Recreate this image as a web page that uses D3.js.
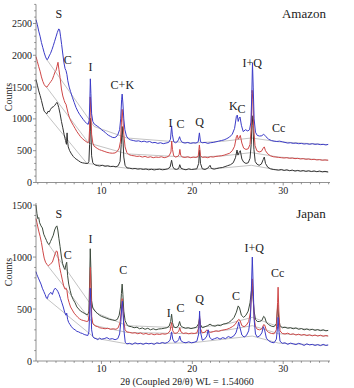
<!DOCTYPE html>
<html><head><meta charset="utf-8">
<script src="https://cdn.jsdelivr.net/npm/d3@7"></script>
<style>
html,body{margin:0;padding:0;background:#fff;}
svg{display:block;}
svg text{font-family:'Liberation Serif','Times New Roman','DejaVu Serif',serif;fill:#222;}
</style></head>
<body>
<svg id="chart" width="354" height="388" font-family="Liberation Serif, Times New Roman, DejaVu Serif, serif"></svg>
<script>
// ---------- DATA ----------
const xTicks = [10, 20, 30];
const amazonYTicks = [0, 500, 1000, 1500, 2000, 2500];
const japanYTicks = [0, 500, 1000, 1500];
const panelNames = ["Amazon", "Japan"];
const xTitle = "2θ (Coupled 2θ/θ) WL = 1.54060";
const yTitle = "Counts";

const amazonBlue = [[2.80,2560],[2.95,2480],[3.10,2380],[3.25,2300],[3.40,2200],[3.55,2120],[3.70,2040],[3.85,1975],[4.00,1930],[4.12,1945],[4.25,1990],[4.40,2030],[4.56,2090],[4.70,2150],[4.85,2220],[5.00,2290],[5.15,2360],[5.30,2415],[5.40,2400],[5.50,2300],[5.62,2170],[5.75,2020],[5.88,1880],[6.00,1790],[6.10,1760],[6.20,1700],[6.30,1600],[6.45,1500],[6.60,1430],[6.80,1340],[7.00,1260],[7.20,1180],[7.40,1120],[7.60,1070],[7.80,1030],[8.00,990],[8.20,955],[8.40,925],[8.55,915],[8.65,980],[8.72,1250],[8.78,1630],[8.84,1400],[8.92,1080],[9.05,960],[9.20,920],[9.40,900],[9.60,880],[9.80,860],[10.00,830],[10.20,810],[10.40,790],[10.60,760],[10.80,740],[11.00,725],[11.20,710],[11.40,705],[11.60,715],[11.80,750],[12.00,830],[12.12,1000],[12.22,1300],[12.28,1390],[12.36,1250],[12.46,1000],[12.58,830],[12.75,730],[12.95,690],[13.20,670],[13.50,660],[13.80,650],[14.10,655],[14.40,640],[14.70,650],[15.00,635],[15.30,645],[15.60,625],[15.90,630],[16.20,615],[16.50,625],[16.80,610],[17.10,620],[17.40,630],[17.60,680],[17.72,890],[17.80,760],[17.95,640],[18.15,625],[18.35,640],[18.50,680],[18.60,720],[18.70,670],[18.90,630],[19.20,620],[19.50,630],[19.80,615],[20.10,625],[20.40,620],[20.65,640],[20.78,780],[20.90,640],[21.10,625],[21.40,630],[21.70,615],[22.00,625],[22.30,630],[22.60,640],[22.90,650],[23.20,660],[23.50,670],[23.80,690],[24.10,715],[24.40,760],[24.65,850],[24.85,1040],[24.95,1060],[25.05,960],[25.15,1010],[25.25,1030],[25.40,900],[25.60,800],[25.85,830],[26.10,810],[26.30,830],[26.45,950],[26.55,1400],[26.62,1880],[26.70,1500],[26.80,1000],[26.95,790],[27.15,740],[27.40,730],[27.65,735],[27.85,760],[27.95,745],[28.10,720],[28.40,680],[28.70,660],[29.00,650],[29.30,645],[29.60,650],[29.90,640],[30.20,630],[30.50,620],[30.80,625],[31.10,615],[31.40,620],[31.70,610],[32.00,615],[32.30,605],[32.60,610],[32.90,600],[33.20,610],[33.50,600],[33.80,605],[34.10,595],[34.40,600],[34.70,590],[34.95,600]];

const amazonRed = [[2.80,1980],[2.95,1900],[3.10,1820],[3.25,1750],[3.40,1660],[3.55,1590],[3.70,1540],[3.85,1510],[4.00,1500],[4.15,1530],[4.30,1560],[4.45,1590],[4.60,1620],[4.75,1680],[4.90,1740],[5.00,1760],[5.10,1820],[5.22,1890],[5.32,1780],[5.45,1650],[5.60,1470],[5.75,1360],[5.90,1290],[6.00,1250],[6.10,1230],[6.20,1170],[6.35,1080],[6.50,1010],[6.70,950],[6.90,900],[7.10,850],[7.30,800],[7.50,760],[7.70,720],[7.90,690],[8.10,665],[8.30,645],[8.50,625],[8.62,640],[8.70,850],[8.77,1345],[8.84,1100],[8.92,760],[9.05,620],[9.20,570],[9.40,550],[9.60,530],[9.80,515],[10.00,505],[10.30,490],[10.60,475],[10.90,465],[11.20,460],[11.50,465],[11.75,490],[11.95,540],[12.10,650],[12.20,950],[12.28,1150],[12.36,1000],[12.46,760],[12.60,560],[12.80,470],[13.00,440],[13.30,425],[13.60,420],[13.90,410],[14.20,415],[14.50,400],[14.80,410],[15.10,395],[15.40,405],[15.70,390],[16.00,400],[16.30,395],[16.60,405],[16.90,390],[17.20,400],[17.45,420],[17.65,480],[17.73,650],[17.82,520],[17.95,420],[18.15,400],[18.40,410],[18.55,440],[18.63,520],[18.72,430],[18.90,400],[19.20,395],[19.50,405],[19.80,390],[20.10,400],[20.40,395],[20.65,410],[20.78,590],[20.90,420],[21.10,395],[21.40,400],[21.70,390],[22.00,405],[22.30,400],[22.60,410],[22.90,415],[23.20,420],[23.50,430],[23.80,445],[24.10,460],[24.40,500],[24.65,570],[24.85,720],[24.95,745],[25.05,680],[25.15,700],[25.28,740],[25.45,620],[25.65,540],[25.90,520],[26.15,530],[26.35,600],[26.48,850],[26.58,1450],[26.66,1300],[26.76,850],[26.90,580],[27.10,500],[27.35,480],[27.60,490],[27.80,540],[27.92,560],[28.05,500],[28.30,450],[28.60,420],[28.90,405],[29.20,400],[29.50,395],[29.80,390],[30.10,385],[30.40,390],[30.70,380],[31.00,385],[31.30,375],[31.60,380],[31.90,370],[32.20,375],[32.50,365],[32.80,370],[33.10,360],[33.40,365],[33.70,355],[34.00,360],[34.30,350],[34.60,355],[34.95,350]];

const amazonBlack = [[2.80,1620],[2.95,1530],[3.10,1440],[3.25,1370],[3.40,1290],[3.55,1200],[3.70,1120],[3.85,1100],[4.00,1080],[4.12,1120],[4.25,1110],[4.40,1150],[4.55,1180],[4.70,1190],[4.85,1210],[5.00,1240],[5.10,1260],[5.20,1230],[5.30,1180],[5.45,1080],[5.60,960],[5.75,860],[5.90,750],[6.05,660],[6.15,600],[6.22,780],[6.28,640],[6.35,560],[6.50,500],[6.70,450],[6.90,410],[7.10,380],[7.30,360],[7.50,340],[7.70,320],[7.90,310],[8.10,305],[8.30,300],[8.50,300],[8.62,330],[8.70,600],[8.77,1010],[8.84,800],[8.92,420],[9.05,310],[9.20,285],[9.40,270],[9.60,265],[9.80,260],[10.10,270],[10.40,255],[10.70,262],[11.00,250],[11.30,255],[11.60,245],[11.85,265],[12.05,330],[12.18,600],[12.28,880],[12.36,700],[12.46,400],[12.60,270],[12.80,230],[13.10,225],[13.40,215],[13.70,220],[14.00,210],[14.30,215],[14.60,205],[14.90,212],[15.20,200],[15.50,208],[15.80,198],[16.10,205],[16.40,210],[16.70,200],[17.00,205],[17.30,215],[17.55,240],[17.72,350],[17.85,250],[18.00,215],[18.25,205],[18.50,220],[18.62,280],[18.75,225],[19.00,210],[19.30,200],[19.60,215],[19.90,205],[20.20,210],[20.50,215],[20.70,300],[20.80,510],[20.90,300],[21.10,215],[21.40,205],[21.70,225],[21.95,270],[22.10,220],[22.40,210],[22.70,220],[23.00,230],[23.30,235],[23.60,250],[23.90,265],[24.20,280],[24.50,310],[24.75,390],[24.92,510],[25.02,430],[25.15,470],[25.28,500],[25.45,370],[25.65,320],[25.90,300],[26.15,310],[26.35,380],[26.48,600],[26.58,1050],[26.67,900],[26.78,520],[26.92,330],[27.10,290],[27.35,270],[27.60,290],[27.80,360],[27.92,400],[28.05,300],[28.30,240],[28.60,215],[28.90,205],[29.20,200],[29.50,195],[29.80,205],[30.10,190],[30.40,200],[30.70,185],[31.00,195],[31.30,180],[31.60,190],[31.90,178],[32.20,188],[32.50,175],[32.80,185],[33.10,172],[33.40,182],[33.70,170],[34.00,180],[34.30,168],[34.60,175],[34.95,165]];

const japanBlack = [[2.80,1500],[2.90,1420],[3.00,1370],[3.10,1380],[3.20,1330],[3.35,1300],[3.50,1280],[3.65,1220],[3.80,1190],[3.95,1160],[4.10,1130],[4.25,1120],[4.40,1150],[4.55,1180],[4.70,1210],[4.85,1260],[5.00,1290],[5.10,1300],[5.20,1260],[5.32,1180],[5.45,1100],[5.60,1000],[5.72,940],[5.85,900],[5.98,880],[6.10,930],[6.18,950],[6.28,820],[6.40,740],[6.55,680],[6.70,630],[6.90,590],[7.10,560],[7.30,520],[7.50,500],[7.70,480],[7.90,470],[8.10,460],[8.30,450],[8.50,445],[8.62,480],[8.70,760],[8.77,1080],[8.84,880],[8.92,580],[9.05,510],[9.20,490],[9.40,470],[9.60,455],[9.80,440],[10.00,430],[10.30,420],[10.60,410],[10.90,400],[11.20,395],[11.50,390],[11.75,400],[11.95,440],[12.10,520],[12.20,650],[12.28,740],[12.36,640],[12.46,480],[12.60,390],[12.80,350],[13.00,335],[13.30,330],[13.60,320],[13.90,325],[14.20,310],[14.50,318],[14.80,305],[15.10,315],[15.40,300],[15.70,310],[16.00,300],[16.30,308],[16.60,310],[16.90,315],[17.20,320],[17.45,335],[17.62,380],[17.72,450],[17.82,370],[17.95,330],[18.20,320],[18.45,335],[18.60,380],[18.72,340],[18.95,325],[19.25,315],[19.55,320],[19.85,312],[20.15,318],[20.45,325],[20.70,360],[20.80,410],[20.90,350],[21.10,320],[21.40,330],[21.70,340],[21.95,355],[22.20,340],[22.50,335],[22.80,345],[23.10,340],[23.40,355],[23.70,360],[24.00,370],[24.30,390],[24.60,420],[24.85,470],[25.05,530],[25.20,510],[25.40,440],[25.65,420],[25.90,440],[26.15,480],[26.35,560],[26.48,660],[26.58,720],[26.68,620],[26.80,480],[26.95,400],[27.15,380],[27.40,380],[27.65,390],[27.85,430],[27.97,420],[28.15,370],[28.40,350],[28.70,335],[29.00,330],[29.25,360],[29.40,540],[29.50,420],[29.65,340],[29.90,320],[30.20,325],[30.50,315],[30.80,320],[31.10,310],[31.40,318],[31.70,305],[32.00,312],[32.30,300],[32.60,308],[32.90,298],[33.20,305],[33.50,295],[33.80,302],[34.10,292],[34.40,300],[34.70,290],[34.95,295]];

const japanRed = [[2.80,1370],[2.90,1330],[3.00,1290],[3.10,1250],[3.25,1200],[3.40,1140],[3.55,1060],[3.70,990],[3.85,950],[4.00,930],[4.15,915],[4.30,925],[4.45,940],[4.60,950],[4.75,990],[4.90,1030],[5.05,1060],[5.15,1050],[5.25,990],[5.40,900],[5.55,840],[5.70,780],[5.85,720],[6.00,690],[6.12,700],[6.20,680],[6.32,600],[6.45,560],[6.60,520],[6.80,490],[7.00,460],[7.20,440],[7.40,420],[7.60,405],[7.80,395],[8.00,390],[8.20,385],[8.40,380],[8.55,385],[8.65,450],[8.72,700],[8.78,900],[8.85,700],[8.93,430],[9.05,360],[9.20,345],[9.40,335],[9.60,330],[9.80,320],[10.10,315],[10.40,310],[10.70,315],[11.00,305],[11.30,310],[11.60,305],[11.85,320],[12.05,370],[12.18,480],[12.28,600],[12.36,520],[12.46,380],[12.60,300],[12.80,280],[13.10,275],[13.40,268],[13.70,272],[14.00,262],[14.30,270],[14.60,258],[14.90,265],[15.20,255],[15.50,262],[15.80,252],[16.10,260],[16.40,255],[16.70,262],[17.00,258],[17.30,265],[17.55,290],[17.72,370],[17.85,290],[18.05,265],[18.30,270],[18.50,285],[18.62,320],[18.75,280],[19.00,265],[19.30,270],[19.60,262],[19.90,268],[20.20,265],[20.50,270],[20.70,320],[20.80,430],[20.90,310],[21.10,270],[21.40,278],[21.60,300],[21.75,285],[22.00,275],[22.30,282],[22.60,290],[22.90,285],[23.20,295],[23.50,300],[23.80,305],[24.10,315],[24.40,330],[24.70,350],[24.95,385],[25.10,400],[25.25,390],[25.45,340],[25.70,330],[25.95,345],[26.20,380],[26.40,470],[26.52,650],[26.60,790],[26.68,640],[26.80,420],[26.95,330],[27.15,305],[27.40,300],[27.65,310],[27.85,350],[27.97,345],[28.15,295],[28.40,275],[28.70,265],[29.00,262],[29.25,300],[29.38,560],[29.44,710],[29.52,480],[29.65,290],[29.90,265],[30.20,260],[30.50,268],[30.80,255],[31.10,262],[31.40,250],[31.70,258],[32.00,248],[32.30,255],[32.60,245],[32.90,252],[33.20,242],[33.50,250],[33.80,240],[34.10,248],[34.40,238],[34.70,245],[34.95,240]];

const japanBlue = [[2.80,860],[2.90,830],[3.00,810],[3.10,790],[3.20,770],[3.35,740],[3.50,700],[3.65,670],[3.80,640],[3.95,605],[4.05,600],[4.15,630],[4.30,650],[4.45,660],[4.60,640],[4.75,680],[4.90,700],[5.05,690],[5.20,670],[5.35,640],[5.50,600],[5.65,560],[5.80,520],[5.95,470],[6.10,440],[6.18,460],[6.28,400],[6.40,370],[6.55,350],[6.70,330],[6.90,310],[7.10,300],[7.30,285],[7.50,280],[7.70,270],[7.90,265],[8.10,255],[8.30,250],[8.50,245],[8.62,280],[8.70,450],[8.77,700],[8.84,520],[8.92,300],[9.05,235],[9.20,220],[9.40,215],[9.60,205],[9.80,220],[10.00,210],[10.30,215],[10.60,225],[10.90,210],[11.20,215],[11.50,205],[11.80,215],[12.00,260],[12.14,380],[12.24,520],[12.30,575],[12.38,460],[12.48,290],[12.62,180],[12.80,165],[13.10,170],[13.40,160],[13.70,175],[14.00,165],[14.30,170],[14.60,160],[14.90,172],[15.20,165],[15.50,170],[15.80,160],[16.10,175],[16.40,168],[16.70,178],[17.00,170],[17.30,180],[17.55,200],[17.72,280],[17.85,210],[18.05,180],[18.30,185],[18.50,205],[18.62,240],[18.75,195],[19.00,180],[19.30,175],[19.60,185],[19.90,175],[20.20,180],[20.50,190],[20.70,260],[20.80,480],[20.90,280],[21.10,200],[21.35,210],[21.60,240],[21.75,300],[21.90,230],[22.15,205],[22.45,215],[22.75,225],[23.05,210],[23.35,225],[23.65,215],[23.95,235],[24.25,225],[24.55,240],[24.80,270],[25.00,330],[25.10,375],[25.22,330],[25.45,250],[25.70,230],[25.95,245],[26.20,290],[26.40,420],[26.52,750],[26.60,1000],[26.68,780],[26.80,400],[26.95,260],[27.15,230],[27.40,240],[27.65,270],[27.82,330],[27.95,300],[28.15,220],[28.40,195],[28.70,180],[29.00,175],[29.25,210],[29.38,330],[29.44,420],[29.52,300],[29.65,190],[29.90,170],[30.20,175],[30.50,160],[30.80,172],[31.10,165],[31.40,158],[31.70,170],[32.00,162],[32.30,150],[32.60,165],[32.90,155],[33.20,160],[33.50,150],[33.80,158],[34.10,148],[34.40,160],[34.70,150],[34.95,155]];

// fitted backgrounds (thin grey)
const amazonBgBlue = [[4.0,1930],[9.2,880],[12.8,700],[20,620],[23.5,650],[26.5,700],[29.5,640],[34.95,595]];
const amazonBgRed = [[3.9,1510],[8.6,620],[12.8,450],[20,395],[23.5,420],[26.5,470],[29.5,400],[34.95,350]];
const amazonBgBlack = [[3.8,1100],[8.4,300],[12.8,225],[20,205],[23.5,230],[26.5,270],[29.5,195],[34.95,165]];
const japanBgBlack = [[4.2,1120],[9.5,460],[12.8,340],[20,315],[24,360],[26.6,420],[29.5,330],[34.95,292]];
const japanBgRed = [[4.1,915],[9.3,340],[12.8,275],[20,262],[24,300],[26.6,340],[29.5,262],[34.95,240]];
const japanBgBlue = [[4.0,600],[9.3,220],[12.8,165],[20,175],[24,215],[26.6,240],[29.5,172],[34.95,150]];

// peak labels: [text, 2θ, counts]
const amazonPeaks = [["S",5.3,2580],["C",6.3,1860],["I",8.8,1760],["C+K",12.3,1470],["I",17.6,880],["C",18.7,850],["Q",20.8,890],["K",24.5,1140],["C",25.4,1090],["I+Q",26.6,1810],["Cc",29.5,800]];
const japanPeaks = [["S",5.3,1380],["C",6.3,980],["I",8.8,1140],["C",12.4,835],["I",17.4,420],["C",18.7,470],["Q",20.8,555],["C",24.8,590],["I+Q",26.8,1050],["Cc",29.4,810]];

// ---------- DRAW ----------
const FONT = "Liberation Serif, Times New Roman, DejaVu Serif, serif";
const svg = d3.select("#chart");
const x = d3.scaleLinear().domain([2.8, 35.15]).range([36, 330]);
const colors = {blue:"#3b3bc8", red:"#cf4747", black:"#333333", dark:"#3c4a3c", bg:"#b4b4b4"};

function panel(cfg){
  const y = d3.scaleLinear().domain(cfg.yDomain).range(cfg.yRange);
  const g = svg.append("g");
  const line = d3.line().x(d=>x(d[0])).y(d=>y(d[1]));
  cfg.bgs.forEach(b=>{
    g.append("path").datum(b).attr("d",line).attr("fill","none")
      .attr("stroke",colors.bg).attr("stroke-width",0.8);
  });
  cfg.series.forEach(s=>{
    g.append("path").datum(s.data).attr("d",line).attr("fill","none")
      .attr("stroke",s.color).attr("stroke-width",1).attr("stroke-linejoin","round");
  });
  const xMinor = d3.range(3, 36, 1);
  const xa = g.append("g").attr("transform",`translate(0,${cfg.yRange[0]})`);
  xa.append("line").attr("x1",36).attr("x2",330).attr("stroke","#777").attr("stroke-width",0.8);
  xa.selectAll("line.mn").data(xMinor).join("line").attr("class","mn")
    .attr("x1",d=>x(d)).attr("x2",d=>x(d)).attr("y1",0).attr("y2",d=>d%10===0?3:1.8)
    .attr("stroke","#777").attr("stroke-width",0.8);
  xa.selectAll("text").data(xTicks).join("text")
    .attr("x",d=>x(d)).attr("y",11).attr("text-anchor","middle")
    .attr("font-family",FONT).attr("font-size",10).text(d=>d);
  const ya = g.append("g").attr("transform","translate(36,0)");
  ya.append("line").attr("y1",cfg.yRange[0]).attr("y2",cfg.yRange[1]).attr("stroke","#777").attr("stroke-width",0.8);
  const yMinor = d3.range(0, cfg.yDomain[1]+1, 100);
  ya.selectAll("line.mn").data(yMinor).join("line").attr("class","mn")
    .attr("y1",d=>y(d)).attr("y2",d=>y(d)).attr("x1",0).attr("x2",d=>d%500===0?-3:-1.8)
    .attr("stroke","#777").attr("stroke-width",0.8);
  ya.selectAll("text").data(cfg.yTicks).join("text")
    .attr("x",-4).attr("y",d=>y(d)).attr("dy","0.35em").attr("text-anchor","end")
    .attr("font-family",FONT).attr("font-size",10).text(d=>d);
  g.append("text").attr("transform",`translate(12,${cfg.titleY}) rotate(-90)`)
    .attr("text-anchor","middle").attr("font-family",FONT).attr("font-size",10).text(yTitle);
  g.append("text").attr("x",cfg.nameX).attr("y",cfg.nameY).attr("text-anchor","middle")
    .attr("font-family",FONT).attr("font-size",13).text(cfg.name);
  g.selectAll("text.pk").data(cfg.peaks).join("text").attr("class","pk")
    .attr("x",d=>x(d[1])).attr("y",d=>y(d[2])).attr("text-anchor","middle")
    .attr("font-family",FONT).attr("font-size",12).text(d=>d[0]);
}

panel({yDomain:[0,2800], yRange:[182.5,4.4], yTicks:amazonYTicks, titleY:97, name:panelNames[0], nameX:304, nameY:18,
  peaks:amazonPeaks, bgs:[amazonBgBlue,amazonBgRed,amazonBgBlack],
  series:[{data:amazonBlack,color:colors.black},{data:amazonRed,color:colors.red},{data:amazonBlue,color:colors.blue}]});
panel({yDomain:[0,1520], yRange:[361,203], yTicks:japanYTicks, titleY:272, name:panelNames[1], nameX:311, nameY:218,
  peaks:japanPeaks, bgs:[japanBgBlack,japanBgRed,japanBgBlue],
  series:[{data:japanBlack,color:colors.dark},{data:japanRed,color:colors.red},{data:japanBlue,color:colors.blue}]});

svg.append("text").attr("x",187).attr("y",385).attr("text-anchor","middle")
  .attr("font-family",FONT).attr("font-size",10).text(xTitle);
</script>
</body></html>
